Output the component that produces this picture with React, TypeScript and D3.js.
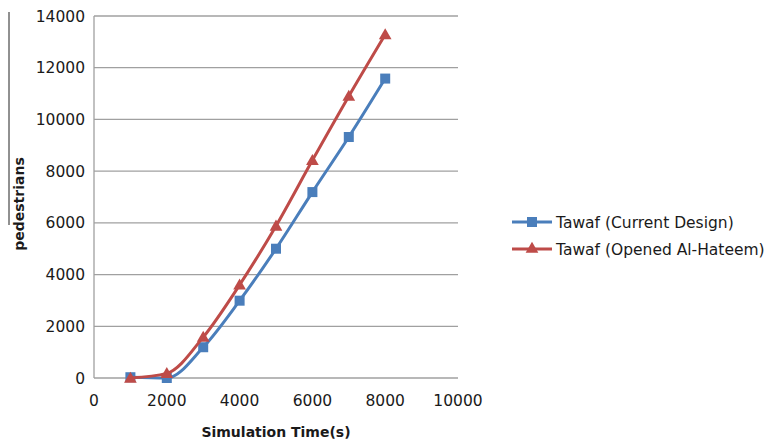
import React, { useEffect, useRef } from "react";
import * as d3 from "d3";

const times = [1000, 2000, 3000, 4000, 5000, 6000, 7000, 8000];
const currentDesign = [30, 0, 1190, 2990, 5000, 7190, 9320, 11580];
const openedHateem = [0, 180, 1580, 3600, 5880, 8420, 10900, 13280];
const yTicks = [0, 2000, 4000, 6000, 8000, 10000, 12000, 14000];
const xTicks = [0, 2000, 4000, 6000, 8000, 10000];
const seriesNames = ["Tawaf (Current Design)", "Tawaf (Opened Al-Hateem)"];
const seriesColors = ["#4a7ebb", "#be4b48"];

function App() {
  const ref = useRef<SVGSVGElement>(null);

  useEffect(() => {
    const svg = d3.select(ref.current);
    svg.selectAll("*").remove();

    const left = 94, right = 458, top = 16, bottom = 378;
    const x = d3.scaleLinear().domain([0, 10000]).range([left, right]);
    const y = d3.scaleLinear().domain([0, 14000]).range([bottom, top]);
    const font = "'DejaVu Sans', sans-serif";

    svg.append("rect").attr("width", 768).attr("height", 442).attr("fill", "#fff");

    // stray line at far left
    svg.append("line")
      .attr("x1", 9).attr("x2", 9).attr("y1", 12).attr("y2", 225)
      .attr("stroke", "#222").attr("stroke-width", 1);

    // gridlines
    svg.append("g").selectAll("line").data(yTicks).enter().append("line")
      .attr("x1", left).attr("x2", right)
      .attr("y1", d => y(d)).attr("y2", d => y(d))
      .attr("stroke", "#a0a0a0").attr("stroke-width", 1.3);

    svg.append("line")
      .attr("x1", left).attr("x2", left).attr("y1", top).attr("y2", bottom)
      .attr("stroke", "#a0a0a0").attr("stroke-width", 1.3);

    svg.append("g").selectAll("text").data(yTicks).enter().append("text")
      .text(d => d)
      .attr("x", left - 9).attr("y", d => y(d)).attr("dy", "0.36em")
      .attr("text-anchor", "end").attr("font-family", font).attr("font-size", 15.5)
      .attr("fill", "#1a1a1a");

    svg.append("g").selectAll("text").data(xTicks).enter().append("text")
      .text(d => d)
      .attr("x", d => x(d)).attr("y", 400).attr("dy", "0.36em")
      .attr("text-anchor", "middle").attr("font-family", font).attr("font-size", 15.5)
      .attr("fill", "#1a1a1a");

    svg.append("text").text("Simulation Time(s)")
      .attr("x", 276).attr("y", 437)
      .attr("text-anchor", "middle").attr("font-family", font).attr("font-size", 14)
      .attr("font-weight", "bold").attr("fill", "#1a1a1a");

    svg.append("text").text("pedestrians")
      .attr("transform", "translate(24,204) rotate(-90)")
      .attr("text-anchor", "middle").attr("font-family", font).attr("font-size", 14)
      .attr("font-weight", "bold").attr("fill", "#1a1a1a");

    const line = d3.line<number>()
      .x((d, i) => x(times[i]))
      .y(d => y(d))
      .curve(d3.curveMonotoneX);

    const allSeries = [currentDesign, openedHateem];
    const tri = d3.symbol().type(d3.symbolTriangle).size(70);

    allSeries.forEach((vals, s) => {
      svg.append("path").datum(vals)
        .attr("d", line).attr("fill", "none")
        .attr("stroke", seriesColors[s]).attr("stroke-width", 3);
      const g = svg.append("g");
      if (s === 0) {
        g.selectAll("rect").data(vals).enter().append("rect")
          .attr("x", (d, i) => x(times[i]) - 5).attr("y", d => y(d) - 5)
          .attr("width", 10).attr("height", 10).attr("fill", seriesColors[s]);
      } else {
        g.selectAll("path").data(vals).enter().append("path")
          .attr("d", tri)
          .attr("transform", (d, i) => `translate(${x(times[i])},${y(d) + 1})`)
          .attr("fill", seriesColors[s]);
      }
    });

    // legend
    const legend = svg.append("g");
    seriesNames.forEach((name, s) => {
      const ly = 222 + s * 27;
      legend.append("line")
        .attr("x1", 512).attr("x2", 552).attr("y1", ly).attr("y2", ly)
        .attr("stroke", seriesColors[s]).attr("stroke-width", 3);
      if (s === 0) {
        legend.append("rect").attr("x", 527).attr("y", ly - 5)
          .attr("width", 10).attr("height", 10).attr("fill", seriesColors[s]);
      } else {
        legend.append("path").attr("d", tri)
          .attr("transform", `translate(532,${ly})`).attr("fill", seriesColors[s]);
      }
      legend.append("text").text(name)
        .attr("x", 556).attr("y", ly).attr("dy", "0.36em")
        .attr("font-family", font).attr("font-size", 15.5).attr("fill", "#1a1a1a");
    });
  }, []);

  return <svg ref={ref} width={768} height={442} style={{ position: "absolute", left: 0, top: 0 }} />;
}

export default App;
